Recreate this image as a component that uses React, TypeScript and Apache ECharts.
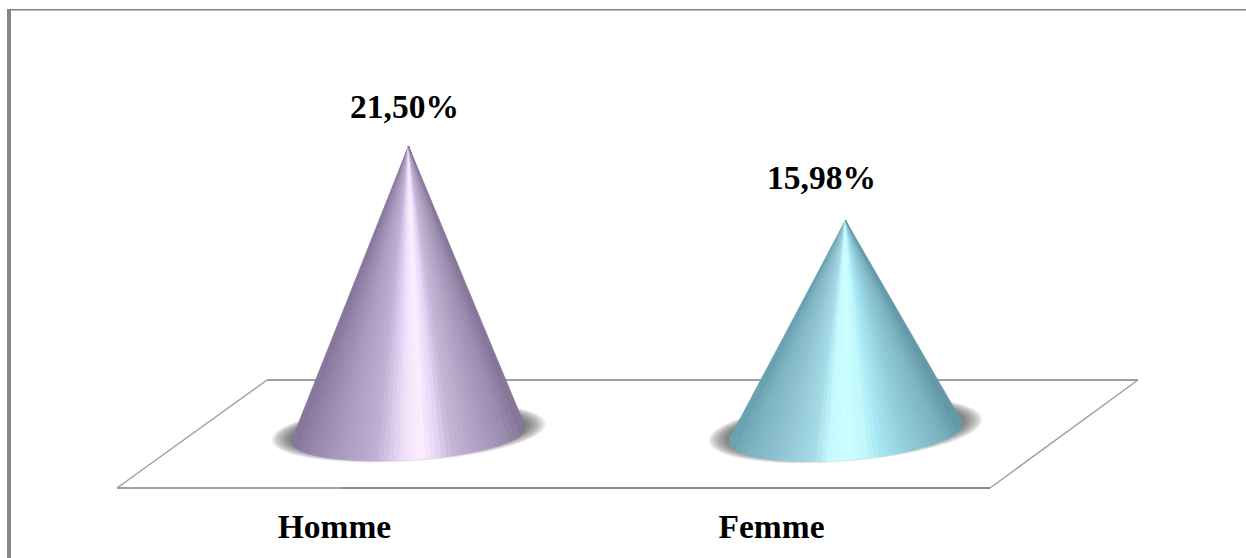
import React, { useEffect, useRef } from "react";
import * as echarts from "echarts";

const categories = ["Homme", "Femme"];
const values = [21.5, 15.98];
const valueLabels = ["21,50%", "15,98%"];

// Per-cone drawing styles: banded shading from left rim to right rim.
const SHADES: [number, string][][] = [
  [[0, "#85759a"], [0.07, "#9484a9"], [0.2, "#ab9bbf"], [0.35, "#bfb0d3"], [0.42, "#d9caec"], [0.48, "#f0e2fb"], [0.55, "#fdeeff"], [0.62, "#e6d6f8"], [0.68, "#c6b8d8"], [0.8, "#b0a1c4"], [0.92, "#9b8bae"], [1, "#827396"]],
  [[0, "#669fae"], [0.07, "#7db3c1"], [0.2, "#8fc3d0"], [0.35, "#a4dbe6"], [0.42, "#c5f9fe"], [0.5, "#ccffff"], [0.58, "#c0f8fc"], [0.65, "#a6e6f2"], [0.75, "#93cfdc"], [0.9, "#7fb5c3"], [1, "#6196a5"]],
];
const TILT = [-0.06, -0.081];
const MINOR = [25, 27];
const BASE_LIFT = [0, 2];
const LABEL_SHIFT = [-4, -24];
const LABEL_GAP = [40, 43];
const BASE_RATIO = 0.268;
const FACETS = 44;
const SHADOW_RINGS = 10;

const hexRgb = (h: string) => [1, 3, 5].map((i) => parseInt(h.slice(i, i + 2), 16));

function shadeAt(stops: [number, string][], t: number): string {
  for (let i = 1; i < stops.length; i++) {
    if (t <= stops[i][0]) {
      const [t0, c0] = stops[i - 1];
      const [t1, c1] = stops[i];
      const k = (t - t0) / (t1 - t0);
      const a = hexRgb(c0);
      const b = hexRgb(c1);
      return `rgb(${a.map((v, j) => Math.round(v + (b[j] - v) * k)).join(",")})`;
    }
  }
  return stops[stops.length - 1][1];
}

// Draws one cone: a soft floor shadow, then facets fanning out from the apex.
function renderCone(params: any, api: any) {
  const idx = params.dataIndex;
  const [cx, y0] = api.coord([api.value(0), 0]);
  const [, apexY] = api.coord([api.value(0), api.value(1)]);
  const cy = y0 - BASE_LIFT[idx];
  const a = api.size([1, 0])[0] * BASE_RATIO;
  const b = MINOR[idx];
  const phi = TILT[idx];
  const rim = (th: number) => [
    cx + a * Math.cos(th) * Math.cos(phi) - b * Math.sin(th) * Math.sin(phi),
    cy + a * Math.cos(th) * Math.sin(phi) + b * Math.sin(th) * Math.cos(phi),
  ];
  const apex = [cx, apexY];
  const delta = b / (y0 - apexY);
  const children: any[] = [];
  // Stacked translucent ellipses give the shadow its soft outer falloff.
  for (let r = 0; r < SHADOW_RINGS; r++) {
    const grow = 20 * (1 - r / SHADOW_RINGS);
    children.push({
      type: "ellipse",
      rotation: -phi,
      x: cx,
      y: cy - 3,
      shape: { cx: 0, cy: 0, rx: a + grow, ry: b - 2 + grow * 0.32 },
      style: { fill: "#555555", opacity: 0.11 },
    });
  }
  for (let i = 0; i < FACETS; i++) {
    const t0 = i / FACETS;
    const t1 = (i + 1) / FACETS;
    const th0 = Math.acos(1 - 2 * t0);
    const th1 = Math.acos(1 - 2 * t1);
    // The angle runs from the left rim (pi) through the front to the right rim (0).
    const pts: number[][] = [apex];
    const steps = 4;
    for (let s = 0; s <= steps; s++) {
      const th = Math.PI - (th0 + (th1 - th0) * (s / steps));
      pts.push(rim(i === 0 && s === 0 ? th + delta : i === FACETS - 1 && s === steps ? th - delta : th));
    }
    const fill = shadeAt(SHADES[idx], (t0 + t1) / 2);
    children.push({
      type: "polygon",
      shape: { points: pts },
      style: { fill, stroke: fill, lineWidth: 0.8 },
    });
  }
  children.push({
    type: "text",
    x: cx + LABEL_SHIFT[idx],
    y: apexY - LABEL_GAP[idx],
    style: {
      text: valueLabels[idx],
      fill: "#000",
      font: 'bold 33.5px "Liberation Serif"',
      align: "center",
      verticalAlign: "middle",
    },
  });
  return { type: "group", children };
}

export default function App() {
  const ref = useRef<HTMLDivElement>(null);
  useEffect(() => {
    const chart = echarts.init(ref.current!, undefined, { renderer: "svg" });
    const frame = "#858585";
    const floor = "#a0a0a0";
    const grid = { top: 32, height: 403 };
    chart.setOption({
      animation: false,
      backgroundColor: "#fff",
      grid: [
        { left: 190, width: 874, ...grid },
        { left: 116, width: 874, ...grid },
      ],
      xAxis: [
        { type: "category", data: categories, gridIndex: 0, show: false },
        {
          type: "category",
          data: categories,
          gridIndex: 1,
          axisLine: { show: false },
          axisTick: { show: false },
          axisLabel: {
            margin: 74,
            color: "#000",
            fontFamily: "Liberation Serif",
            fontWeight: "bold",
            fontSize: 33.5,
          },
        },
      ],
      yAxis: [
        { type: "value", min: 0, max: 30, gridIndex: 0, show: false },
        { type: "value", min: 0, max: 30, gridIndex: 1, show: false },
      ],
      graphic: [
        { type: "rect", z: 0, shape: { x: 7, y: 9, width: 1239, height: 1.5 }, style: { fill: "#808080" } },
        { type: "rect", z: 0, shape: { x: 7, y: 9, width: 4, height: 549 }, style: { fill: frame } },
        { type: "line", z: 0, shape: { x1: 267, y1: 380, x2: 1138, y2: 380 }, style: { stroke: floor, lineWidth: 2 } },
        { type: "line", z: 0, shape: { x1: 117, y1: 488, x2: 341, y2: 488 }, style: { stroke: floor, lineWidth: 2 } },
        { type: "line", z: 0, shape: { x1: 341, y1: 488, x2: 990, y2: 488 }, style: { stroke: "#8c8c8c", lineWidth: 2 } },
        { type: "line", z: 0, shape: { x1: 117, y1: 488, x2: 267, y2: 380 }, style: { stroke: floor, lineWidth: 1.5 } },
        { type: "line", z: 0, shape: { x1: 990, y1: 488, x2: 1138, y2: 380 }, style: { stroke: floor, lineWidth: 1.5 } },
      ],
      series: [
        {
          type: "custom",
          z: 2,
          clip: false,
          xAxisIndex: 0,
          yAxisIndex: 0,
          renderItem: renderCone,
          data: categories.map((_, i) => [i, values[i]]),
        },
      ],
    });
    return () => chart.dispose();
  }, []);
  return <div ref={ref} style={{ position: "fixed", left: 0, top: 0, width: 1246, height: 558 }} />;
}
